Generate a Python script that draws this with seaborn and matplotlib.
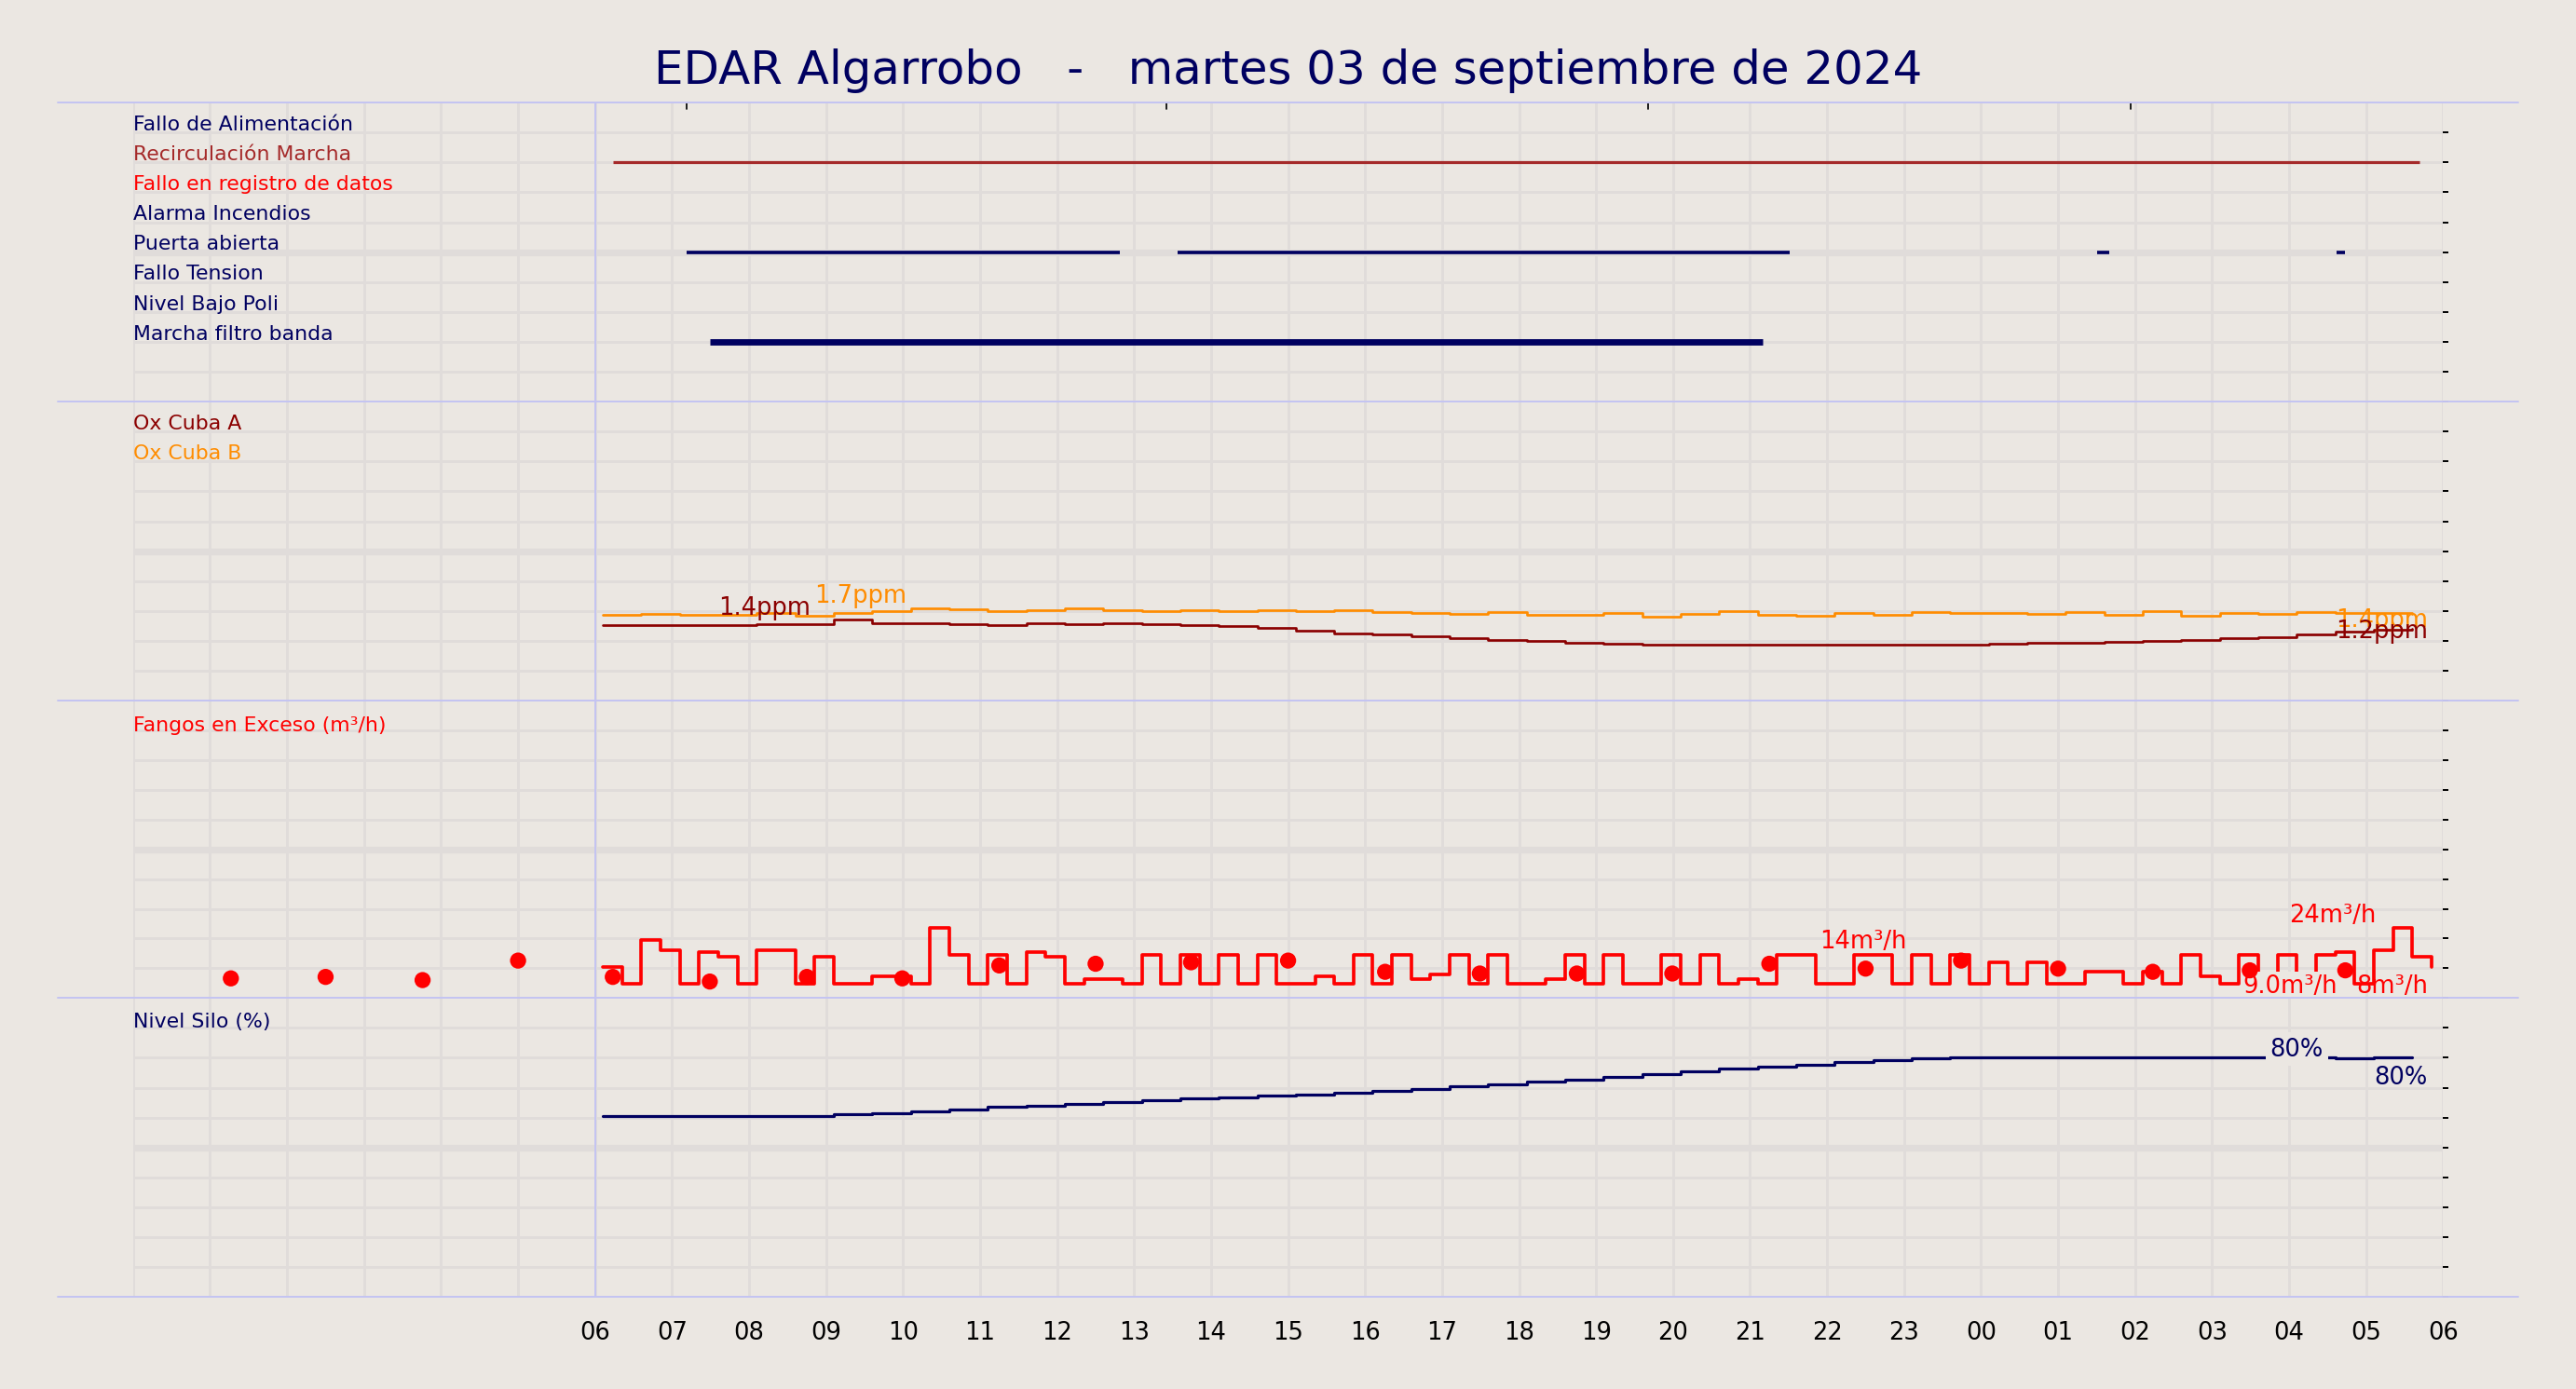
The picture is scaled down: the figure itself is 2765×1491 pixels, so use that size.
import matplotlib
matplotlib.use('Agg')
import matplotlib.pyplot as plt
import seaborn as sns
import numpy as np
import pandas as pd
from matplotlib.lines import Line2D

sns.set_theme(style='white')
plt.rcParams['font.family'] = ['DejaVu Sans']

BG = '#ebe7e2'
GRID = '#e0dcda'
SEP = '#c4c4f2'
NAVY = '#000060'

# ---- datos (horas desde las 06:00) ----
hour_labels = ['06', '07', '08', '09', '10', '11', '12', '13', '14', '15', '16', '17',
               '18', '19', '20', '21', '22', '23', '00', '01', '02', '03', '04', '05', '06']

# señales digitales
alarm_names = ['Fallo de Alimentación', 'Recirculación Marcha', 'Fallo en registro de datos',
               'Alarma Incendios', 'Puerta abierta', 'Fallo Tension', 'Nivel Bajo Poli',
               'Marcha filtro banda']
alarm_colors = [NAVY, '#a52a2a', 'red', NAVY, NAVY, NAVY, NAVY, NAVY]
recirc_on = [(0.23, 23.69)]
puerta_on = [(1.19, 6.82), (7.57, 15.52), (19.51, 19.66), (22.62, 22.72)]
filtro_on = [(1.49, 15.16)]

# oxígeno (ppm), cada 30 min
ox_t = np.arange(0.1, 24.0, 0.5)
ox_a = [1.27, 1.27, 1.26, 1.27, 1.28, 1.28, 1.35, 1.30, 1.29, 1.28, 1.27, 1.29, 1.28, 1.29,
        1.28, 1.27, 1.25, 1.22, 1.17, 1.12, 1.10, 1.08, 1.05, 1.02, 1.00, 0.97, 0.95, 0.94,
        0.94, 0.94, 0.93, 0.93, 0.93, 0.93, 0.94, 0.94, 0.95, 0.96, 0.97, 0.98, 1.00, 1.02,
        1.04, 1.06, 1.10, 1.15, 1.18, 1.20]
ox_b = [1.44, 1.45, 1.44, 1.43, 1.46, 1.42, 1.46, 1.50, 1.55, 1.53, 1.49, 1.52, 1.55, 1.51,
        1.50, 1.52, 1.50, 1.51, 1.49, 1.52, 1.48, 1.47, 1.45, 1.48, 1.44, 1.43, 1.46, 1.41,
        1.45, 1.49, 1.44, 1.42, 1.47, 1.43, 1.48, 1.46, 1.47, 1.45, 1.48, 1.44, 1.49, 1.42,
        1.47, 1.45, 1.48, 1.46, 1.47, 1.45]

# fangos en exceso (m3/h), cada 15 min
fangos_t = np.arange(0.1, 24.0, 0.25)
fangos = [8, 1, 19, 15, 1, 14, 12, 1, 15, 15, 1, 12, 1, 1, 4, 4,
          1, 24, 13, 1, 13, 1, 14, 12, 1, 3, 3, 1, 13, 1, 13, 1,
          13, 1, 13, 1, 1, 4, 1, 13, 1, 13, 3, 5, 13, 1, 13, 1,
          1, 3, 13, 1, 13, 1, 1, 13, 1, 13, 1, 3, 1, 13, 13, 1,
          1, 13, 13, 1, 13, 1, 13, 1, 10, 1, 10, 1, 1, 6, 6, 1,
          6, 1, 13, 4, 1, 13, 1, 13, 1, 13, 14, 1, 15, 24, 12, 8]
dots_t = [-4.73, -3.5, -2.24, -1.0, 0.23, 1.49, 2.75, 3.99, 5.25, 6.5, 7.74, 9.0,
          10.26, 11.49, 12.75, 13.99, 15.25, 16.5, 17.74, 19.0, 20.23, 21.49, 22.73]
dots_v = [3.3, 3.9, 2.6, 10.6, 3.9, 2.0, 3.9, 3.3, 8.6, 9.3, 9.9, 10.6, 6.0, 5.3, 5.3,
          5.3, 9.3, 7.3, 10.6, 7.3, 6.0, 6.6, 6.6]

# nivel silo (%), cada 30 min
silo_t = np.arange(0.1, 24.0, 0.5)
silo = [60.4, 60.4, 60.4, 60.4, 60.4, 60.6, 61.0, 61.5, 62.2, 62.8, 63.5, 64.0, 64.6, 65.2,
        65.8, 66.3, 66.8, 67.3, 67.8, 68.3, 69.0, 69.6, 70.4, 71.2, 72.0, 72.8, 73.7, 74.6,
        75.5, 76.3, 77.0, 77.8, 78.5, 79.2, 79.7, 80.0, 80.2, 80.2, 80.2, 80.2, 80.2, 80.2,
        80.2, 80.2, 80.2, 79.8, 80.2, 80.2]

fig = plt.figure(figsize=(15.68, 8.46), dpi=176.35, facecolor=BG)
L, R = 81 / 1568, 1487 / 1568
tops = [63, 245, 427, 608, 790]
axes = []
for i in range(4):
    y0 = 1 - tops[i + 1] / 846
    h = (tops[i + 1] - tops[i]) / 846
    axes.append(fig.add_axes([L, y0, R - L, h], facecolor=BG))

def style(ax, ymin, ymax):
    ax.set_xlim(-6, 24)
    ax.set_ylim(ymin, ymax)
    yt = np.linspace(ymin, ymax, 11)[:-1]
    ax.set_yticks(yt)
    ax.set_xticks(np.arange(-6, 25, 1))
    ax.grid(True, color=GRID, lw=1.2)
    ax.axhline(yt[5], color=GRID, lw=3, zorder=0)
    ax.yaxis.tick_right()
    ax.tick_params(axis='y', length=2.5, width=0.8, color='black', labelright=False, right=True)
    ax.tick_params(axis='x', length=0, labelbottom=False)
    for s in ax.spines.values():
        s.set_visible(False)
    ax.axvline(0, color=SEP, lw=0.8)
    ax.set_xlabel('')
    ax.set_ylabel('')

LFS = 9.0
# panel 1: alarmas
ax = axes[0]
style(ax, 0, 10)
for k, (name, col) in enumerate(zip(alarm_names, alarm_colors)):
    ax.text(-6, 9 - k + 0.1, name, color=col, fontsize=LFS, ha='left', va='baseline')
for a, b in recirc_on:
    ax.hlines(8, a, b, color='#a52a2a', lw=1.3)
for a, b in puerta_on:
    ax.hlines(5, a, b, color=NAVY, lw=1.5)
for a, b in filtro_on:
    ax.hlines(2, a, b, color=NAVY, lw=2.8)
for xt in [1.19, 7.42, 13.67, 19.94]:
    ax.plot([xt, xt], [9.8, 10], color='black', lw=0.7)

# panel 2: oxígeno
ax = axes[1]
df_ox = pd.DataFrame({'t': ox_t, 'a': ox_a, 'b': ox_b})
sns.lineplot(data=df_ox, x='t', y='a', ax=ax, color='#8b0000', lw=1.1, drawstyle='steps-post')
sns.lineplot(data=df_ox, x='t', y='b', ax=ax, color='darkorange', lw=1.1, drawstyle='steps-post')
style(ax, 0, 5)
ax.text(-6, 4.5 + 0.05, 'Ox Cuba A', color='#8b0000', fontsize=LFS, va='baseline')
ax.text(-6, 4.0 + 0.05, 'Ox Cuba B', color='darkorange', fontsize=LFS, va='baseline')
ax.text(1.6, 1.36, '1.4ppm', color='#8b0000', fontsize=10.5, va='bottom')
ax.text(2.85, 1.56, '1.7ppm', color='darkorange', fontsize=10.5, va='bottom')
ax.text(23.8, 1.15, '1.4ppm', color='darkorange', fontsize=10.5, ha='right', va='bottom')
ax.text(23.8, 0.96, '1.2ppm', color='#8b0000', fontsize=10.5, ha='right', va='bottom')

# panel 3: fangos
ax = axes[2]
df_f = pd.DataFrame({'t': fangos_t, 'v': fangos})
sns.lineplot(data=df_f, x='t', y='v', ax=ax, color='red', lw=1.5, drawstyle='steps-post')
sns.scatterplot(x=dots_t, y=dots_v, ax=ax, color='red', s=50, edgecolor='none', zorder=5)
style(ax, -4.75, 117.25)
ax.text(-6, 105.2, 'Fangos en Exceso (m³/h)', color='red', fontsize=LFS, va='baseline')
ax.text(15.9, 13.5, '14m³/h', color='red', fontsize=10.5, va='bottom')
ax.text(22.0, 24.5, '24m³/h', color='red', fontsize=10.5, va='bottom')
ax.text(21.4, -4.5, '9.0m³/h', color='red', fontsize=10.5, va='bottom',
        bbox=dict(facecolor=BG, edgecolor='none', pad=0.5))
ax.text(23.8, -4.5, '8m³/h', color='red', fontsize=10.5, ha='right', va='bottom')

# panel 4: nivel silo
ax = axes[3]
df_s = pd.DataFrame({'t': silo_t, 'v': silo})
sns.lineplot(data=df_s, x='t', y='v', ax=ax, color=NAVY, lw=1.3, drawstyle='steps-post')
style(ax, 0, 100)
ax.text(-6, 90.5, 'Nivel Silo (%)', color=NAVY, fontsize=LFS, va='baseline')
ax.text(22.1, 79, '80%', color=NAVY, fontsize=10.5, ha='center', va='bottom',
        bbox=dict(facecolor=BG, edgecolor='none', pad=2))
ax.text(23.8, 69.5, '80%', color=NAVY, fontsize=10.5, ha='right', va='bottom')
ax.set_xticks(np.arange(0, 25, 1))
ax.set_xticklabels(hour_labels)
ax.tick_params(axis='x', labelbottom=True, labelsize=10.5, labelcolor='black', pad=10)
ax.set_xticks(np.arange(-6, 25, 1), minor=True)
ax.grid(True, which='minor', axis='x', color=GRID, lw=1.2)

# separadores
for ty in tops:
    yy = 1 - ty / 846
    fig.add_artist(Line2D([35 / 1568, 1533 / 1568], [yy, yy], color=SEP, lw=0.8))

fig.suptitle('EDAR Algarrobo   -   martes 03 de septiembre de 2024', y=0.965,
             fontsize=20.4, color=NAVY)

fig.savefig('out.png', dpi=176.35, facecolor=BG)
